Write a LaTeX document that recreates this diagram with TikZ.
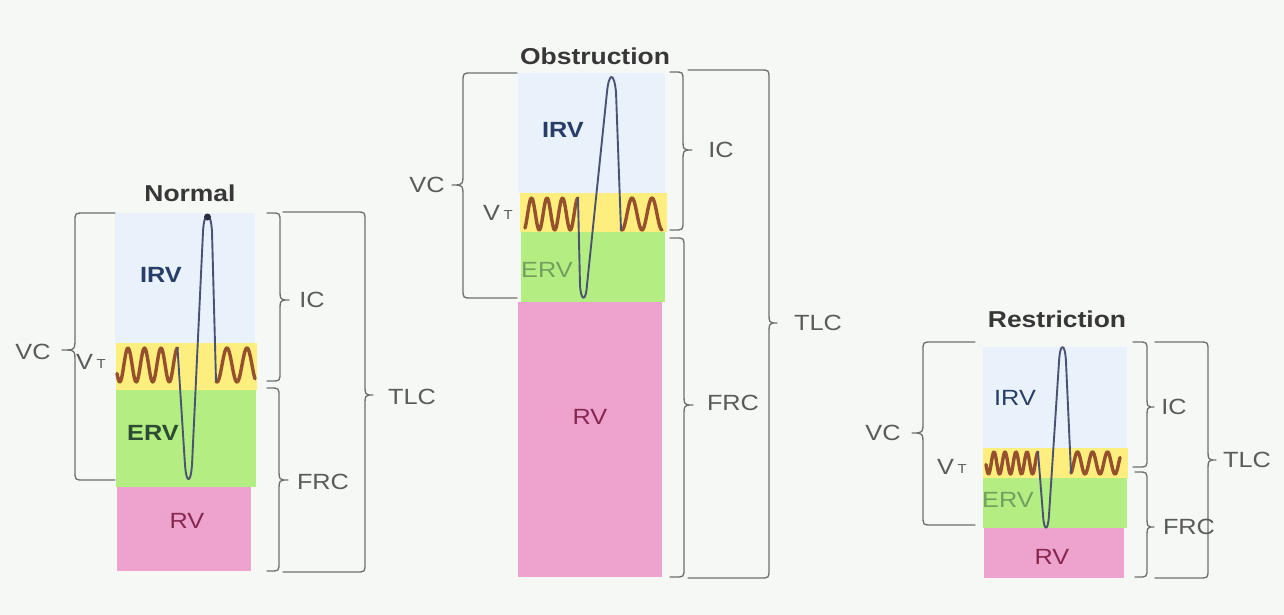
\documentclass[tikz,border=0pt]{standalone}
\usepackage{fontspec}
\setmainfont{Liberation Sans}[FakeStretch=1.15]
\definecolor{bgcol}{RGB}{246,248,245}
\definecolor{irvblue}{RGB}{233,242,250}
\definecolor{vtyellow}{RGB}{253,238,125}
\definecolor{ervgreen}{RGB}{180,237,130}
\definecolor{rvpink}{RGB}{238,162,206}
\definecolor{bracecol}{RGB}{110,110,110}
\definecolor{lblcol}{RGB}{90,90,90}
\definecolor{navycol}{RGB}{40,62,105}
\definecolor{dkgreencol}{RGB}{45,75,50}
\definecolor{ltgreencol}{RGB}{115,160,95}
\definecolor{maroncol}{RGB}{135,40,80}
\definecolor{wavecol}{RGB}{150,80,45}
\definecolor{spikecol}{RGB}{75,82,115}
\definecolor{titlecol}{RGB}{55,55,55}
\tikzset{
  brk/.style={draw=bracecol, line width=1.3pt, line cap=round, line join=round},
  lab/.style={text=lblcol, font=\fontsize{22}{24}\selectfont, inner sep=0pt},
  ttl/.style={text=titlecol, font=\bfseries\fontsize{23}{25}\selectfont, inner sep=0pt},
  vol/.style={inner sep=0pt, font=\fontsize{22}{24}\selectfont},
  volb/.style={inner sep=0pt, font=\bfseries\fontsize{22}{24}\selectfont},
  wv/.style={draw=wavecol, line width=3.4pt, line cap=round, line join=round},
  sp/.style={draw=spikecol, line width=1.9pt, line join=round, line cap=round},
}
% right-pointing brace: #1 end x, #2 vertical x, #3 tip x, #4 top y, #5 tip y, #6 bottom y
\newcommand{\RBr}[6]{%
  \draw[brk] (#1,#4) -- ({#2-9},#4) .. controls (#2,#4) .. (#2,{#4+9})
    -- (#2,{#5-12}) .. controls (#2,#5) .. (#3,#5)
    .. controls (#2,#5) .. (#2,{#5+12})
    -- (#2,{#6-9}) .. controls (#2,#6) .. ({#2-9},#6) -- (#1,#6);}
\newcommand{\LBr}[6]{%
  \draw[brk] (#1,#4) -- ({#2+9},#4) .. controls (#2,#4) .. (#2,{#4+9})
    -- (#2,{#5-12}) .. controls (#2,#5) .. (#3,#5)
    .. controls (#2,#5) .. (#2,{#5+12})
    -- (#2,{#6-9}) .. controls (#2,#6) .. ({#2+9},#6) -- (#1,#6);}
\newcommand{\VTtext}{V\,\raisebox{1.5pt}{\fontsize{13}{13}\selectfont T}}
\begin{document}
\begin{tikzpicture}[x=1pt,y=-1pt]
\useasboundingbox (0,0) rectangle (1284,615);
\fill[bgcol] (0,0) rectangle (1284,615);

% ================= Normal =================
\fill[irvblue] (115,213) rectangle (255,345);
\fill[vtyellow] (116,343) rectangle (257,390);
\fill[ervgreen] (116,390) rectangle (256,487);
\fill[rvpink] (117,487) rectangle (251,571);
\node[ttl] (nT) at (190,193) {Normal};
\node[volb, text=navycol] (nIRV) at (161,275) {IRV};
\node[volb, text=dkgreencol] (nERV) at (153,433) {ERV};
\node[vol, text=maroncol] (nRV) at (187,521) {RV};
\draw[wv] plot[domain=117:177.5, samples=90] (\x, {365 - 17*cos((\x-128)/16.5*360)});
\draw[wv] plot[domain=216:255, samples=60] (\x, {365 - 17*cos((\x-227)/20*360)});
\draw[sp] (177.5,348) -- (185,465) .. controls (186.5,484) and (190.5,484) .. (192,465)
  -- (203,232) .. controls (204,210) and (211,210) .. (212,232) -- (216,381);
\fill[spikecol!55!black] (207.5,217) circle (3.5);
\LBr{115}{75}{62}{213}{350}{480}
\RBr{267}{280}{289}{213}{300}{381}
\RBr{267}{279}{288}{388}{480}{571}
\RBr{283}{365}{373}{212}{395}{572}
\node[lab] (nVC) at (33,352) {VC};
\node[lab] (nVT) at (91,362) {\VTtext};
\node[lab] (nIC) at (312,300) {IC};
\node[lab] (nFRC) at (323,482) {FRC};
\node[lab] (nTLC) at (412,397) {TLC};

% ================= Obstruction =================
\fill[irvblue] (518,73) rectangle (665,193);
\fill[vtyellow] (520,193) rectangle (667,232);
\fill[ervgreen] (521,232) rectangle (665,302);
\fill[rvpink] (518,302) rectangle (662,577);
\node[ttl] (oT) at (595,56) {Obstruction};
\node[volb, text=navycol] (oIRV) at (563,130) {IRV};
\node[vol, text=ltgreencol] (oERV) at (547,270) {ERV};
\node[vol, text=maroncol] (oRV) at (590,417) {RV};
\draw[wv] plot[domain=525:578, samples=80] (\x, {214 - 16*cos((\x-531.5)/15.5*360)});
\draw[wv] plot[domain=621:662, samples=60] (\x, {214 - 16*cos((\x-632)/20*360)});
\draw[sp] (578,198) -- (580,285) .. controls (581,302) and (586,302) .. (587,285)
  -- (607,92) .. controls (609,72) and (614,72) .. (616,92) -- (621,230);
\LBr{517}{463}{452}{73}{185}{298}
\RBr{670}{683}{692}{72}{150}{230}
\RBr{670}{684}{693}{238}{405}{577}
\RBr{688}{769}{777}{70}{323}{578}
\node[lab] (oVC) at (427,185) {VC};
\node[lab] (oVT) at (498,213) {\VTtext};
\node[lab] (oIC) at (721,150) {IC};
\node[lab] (oFRC) at (733,403) {FRC};
\node[lab] (oTLC) at (818,323) {TLC};

% ================= Restriction =================
\fill[irvblue] (983,347) rectangle (1127,448);
\fill[vtyellow] (983,448) rectangle (1128,478);
\fill[ervgreen] (983,478) rectangle (1127,528);
\fill[rvpink] (984,528) rectangle (1124,578);
\node[ttl] (rT) at (1057,319) {Restriction};
\node[vol, text=navycol] (rIRV) at (1015,398) {IRV};
\node[vol, text=ltgreencol] (rERV) at (1008,500) {ERV};
\node[vol, text=maroncol] (rRV) at (1052,557) {RV};
\draw[wv] plot[domain=986:1038, samples=90] (\x, {463 - 11*cos((\x-994)/11*360)});
\draw[wv] plot[domain=1071:1120, samples=80] (\x, {463 - 11*cos((\x-1077.5)/15*360)});
\draw[sp] (1038,452) -- (1043,515) .. controls (1044,532) and (1048,532) .. (1049,515)
  -- (1059,362) .. controls (1060,342) and (1065,342) .. (1066,362) -- (1071,473);
\LBr{975}{923}{912}{342}{433}{525}
\RBr{1133}{1147}{1154}{342}{407}{467}
\RBr{1135}{1147}{1154}{472}{527}{577}
\RBr{1155}{1208}{1216}{342}{460}{578}
\node[lab] (rVC) at (883,433) {VC};
\node[lab] (rVT) at (952,467) {\VTtext};
\node[lab] (rIC) at (1174,407) {IC};
\node[lab] (rFRC) at (1189,527) {FRC};
\node[lab] (rTLC) at (1247,460) {TLC};
\end{tikzpicture}
\end{document}
